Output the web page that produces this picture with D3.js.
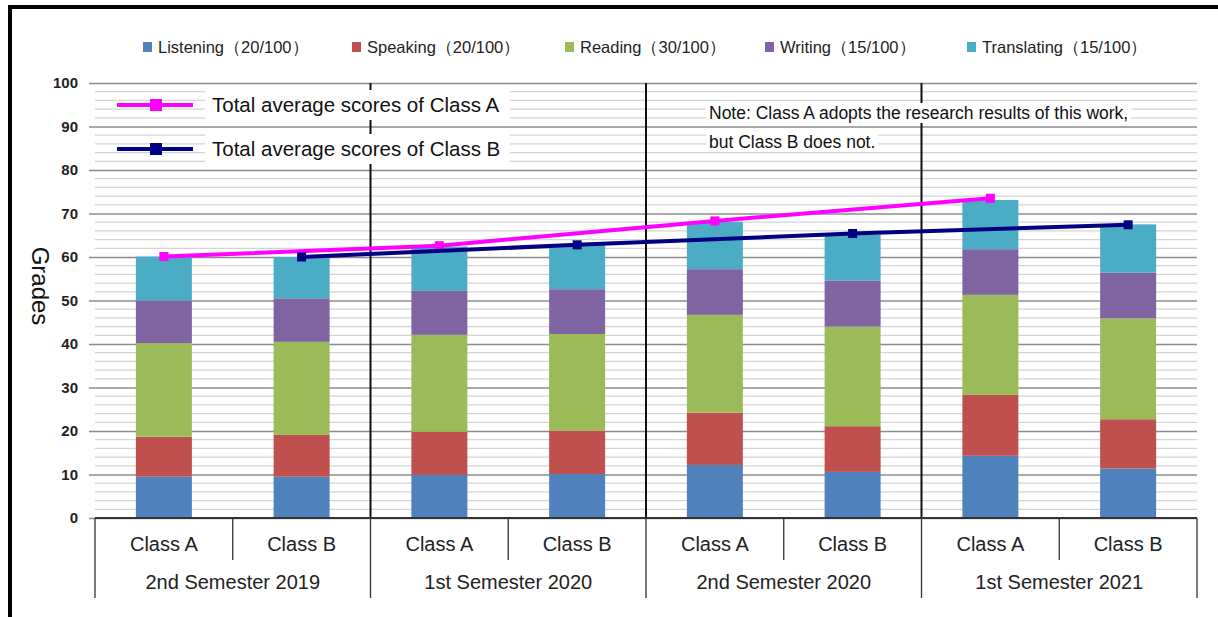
<!DOCTYPE html>
<html lang="en">
<head>
<meta charset="UTF-8">
<title>Grades by semester</title>
<script src="https://d3js.org/d3.v7.min.js"></script>
<style>
  body { margin: 0; background: #fff; }
  svg { display: block; font-family: "Liberation Sans", Arial, sans-serif; }
</style>
</head>
<body>
<svg width="1218" height="617"></svg>
<script>
const semesters = ["2nd Semester 2019", "1st Semester 2020", "2nd Semester 2020", "1st Semester 2021"];
const classes = ["Class A", "Class B"];
const skills = ["Listening（20/100）", "Speaking（20/100）", "Reading（30/100）", "Writing（15/100）", "Translating（15/100）"];
const colors = ["#4f81bd", "#c0504d", "#9bbb59", "#8064a2", "#4bacc6"];

// one value per bar, order: 2019-2 A, 2019-2 B, 2020-1 A, 2020-1 B, ...
const listening   = [9.5, 9.5, 9.9, 10.1, 12.2, 10.6, 14.3, 11.4];
const speaking    = [9.2, 9.6, 9.9, 10.0, 12.0, 10.5, 14.0, 11.3];
const reading     = [21.5, 21.4, 22.3, 22.2, 22.5, 22.9, 23.0, 23.2];
const writing     = [9.8, 10.0, 10.1, 10.3, 10.5, 10.6, 10.5, 10.5];
const translating = [10.1, 9.5, 10.2, 10.2, 10.9, 10.5, 11.3, 11.1];

const totalA = [60.1, 62.6, 68.3, 73.5];
const totalB = [60.0, 62.8, 65.4, 67.4];
const yTicks = [0, 10, 20, 30, 40, 50, 60, 70, 80, 90, 100];

const svg = d3.select("svg");
const plotL = 95, plotR = 1197, plotT = 83, plotB = 518;

const bars = [];
semesters.forEach((s, i) => classes.forEach((c, j) => bars.push({ sem: s, cls: c, key: s + "|" + c, idx: i * 2 + j })));
const series = [listening, speaking, reading, writing, translating];

const xSem = d3.scaleBand().domain(semesters).range([plotL, plotR]);
const x = d3.scaleBand().domain(bars.map(d => d.key)).range([plotL, plotR]);
const y = d3.scaleLinear().domain([0, 100]).range([plotB, plotT]);
const barW = 56;

// outer frame
svg.append("path").attr("d", `M10,617 V7 H1218`).attr("fill", "none").attr("stroke", "#000").attr("stroke-width", 4);

// minor grid
svg.append("g").selectAll("line").data(d3.range(0, 101, 2).filter(v => v % 10 !== 0)).join("line")
  .attr("x1", plotL).attr("x2", plotR).attr("y1", d => y(d)).attr("y2", d => y(d))
  .attr("stroke", "#d4d4d4").attr("stroke-width", 1.2);

// major grid + y axis
const yAxis = svg.append("g").attr("transform", `translate(${plotL},0)`)
  .call(d3.axisLeft(y).tickValues(yTicks).tickSize(-(plotR - plotL)).tickSizeOuter(0).tickPadding(17));
yAxis.select(".domain").remove();
yAxis.selectAll(".tick line").attr("stroke", "#8c8c8c").attr("stroke-width", 1.5).attr("x1", -6);
yAxis.selectAll(".tick text").attr("font-size", 15).attr("font-weight", "bold").attr("fill", "#222")
  .attr("font-family", "Liberation Sans, Arial, sans-serif");

// group separators inside plot
svg.append("g").selectAll("line").data(semesters.slice(1)).join("line")
  .attr("x1", d => xSem(d)).attr("x2", d => xSem(d)).attr("y1", plotT).attr("y2", plotB)
  .attr("stroke", "#111").attr("stroke-width", 2);

// stacked bars
const stackData = bars.map(b => {
  const o = { key: b.key };
  series.forEach((s, k) => o[k] = s[b.idx]);
  return o;
});
const stacked = d3.stack().keys(d3.range(series.length))(stackData);
svg.append("g").selectAll("g").data(stacked).join("g").attr("fill", (d, k) => colors[k])
  .selectAll("rect").data(d => d).join("rect")
  .attr("x", d => x(d.data.key) + x.bandwidth() / 2 - barW / 2)
  .attr("width", barW)
  .attr("y", d => y(d[1]))
  .attr("height", d => y(d[0]) - y(d[1]));

// category axis
const cat = svg.append("g").attr("stroke", "#333").attr("stroke-width", 1.3);
cat.append("line").attr("x1", plotL).attr("x2", plotR).attr("y1", plotB).attr("y2", plotB).attr("stroke-width", 2);
cat.selectAll(".cls").data(semesters).join("line")
  .attr("x1", d => xSem(d) + xSem.bandwidth() / 2).attr("x2", d => xSem(d) + xSem.bandwidth() / 2)
  .attr("y1", plotB).attr("y2", 560);
cat.selectAll(".sem").data(semesters.concat(["end"])).join("line")
  .attr("x1", (d, i) => i < semesters.length ? xSem(d) : plotR)
  .attr("x2", (d, i) => i < semesters.length ? xSem(d) : plotR)
  .attr("y1", plotB).attr("y2", 598);

svg.append("g").selectAll("text").data(bars).join("text")
  .attr("x", d => x(d.key) + x.bandwidth() / 2).attr("y", 551)
  .attr("text-anchor", "middle").attr("font-size", 20).attr("fill", "#222")
  .text(d => d.cls);
svg.append("g").selectAll("text").data(semesters).join("text")
  .attr("x", d => xSem(d) + xSem.bandwidth() / 2).attr("y", 589)
  .attr("text-anchor", "middle").attr("font-size", 20).attr("fill", "#222")
  .text(d => d);

// y title
svg.append("text").attr("transform", "translate(32,286) rotate(90)")
  .attr("text-anchor", "middle").attr("font-size", 24).attr("fill", "#111").text("Grades");

// top legend
const legX = [143, 352, 565, 765, 967];
const leg = svg.append("g").selectAll("g").data(skills).join("g")
  .attr("transform", (d, i) => `translate(${legX[i]},47)`);
leg.append("rect").attr("x", 0).attr("y", -5).attr("width", 9).attr("height", 10).attr("fill", (d, i) => colors[i]);
leg.append("text").attr("x", 15).attr("y", 6).attr("font-size", 16.5).attr("fill", "#222").text(d => d);

// total lines
const cx = i => x(bars[i].key) + x.bandwidth() / 2;
const lines = [
  { vals: totalA, off: 0, color: "#ff00ff", label: "Total average scores of Class A", ly: 105 },
  { vals: totalB, off: 1, color: "#000080", label: "Total average scores of Class B", ly: 149 }
];
const lineGen = d3.line().x(d => d[0]).y(d => y(d[1]));
lines.forEach(l => {
  const pts = l.vals.map((v, i) => [cx(i * 2 + l.off), v]);
  svg.append("path").attr("d", lineGen(pts)).attr("fill", "none").attr("stroke", l.color).attr("stroke-width", 4);
  svg.append("g").selectAll("rect").data(pts).join("rect")
    .attr("x", d => d[0] - 4.5).attr("y", d => y(d[1]) - 4.5).attr("width", 9).attr("height", 9).attr("fill", l.color);

  // legend entry
  svg.append("rect").attr("x", 205).attr("y", l.ly - 15).attr("width", 305).attr("height", 30).attr("fill", "#fff");
  svg.append("line").attr("x1", 117).attr("x2", 193).attr("y1", l.ly).attr("y2", l.ly).attr("stroke", l.color).attr("stroke-width", 4);
  svg.append("rect").attr("x", 150).attr("y", l.ly - 6).attr("width", 12).attr("height", 12).attr("fill", l.color);
  svg.append("text").attr("x", 212).attr("y", l.ly + 7).attr("font-size", 20.5).attr("fill", "#111").text(l.label);
});

// note
const note = ["Note: Class A adopts the research results of this work,", "but Class B does not."];
const noteG = svg.append("g");
note.forEach((t, i) => {
  const ty = 119 + i * 29;
  const txt = noteG.append("text").attr("x", 709).attr("y", ty).attr("font-size", 17.5).attr("fill", "#111").text(t);
  const bb = txt.node().getBBox();
  noteG.insert("rect", "text").attr("x", bb.x - 3).attr("y", bb.y).attr("width", bb.width + 6).attr("height", bb.height).attr("fill", "#fff");
});
</script>
</body>
</html>
